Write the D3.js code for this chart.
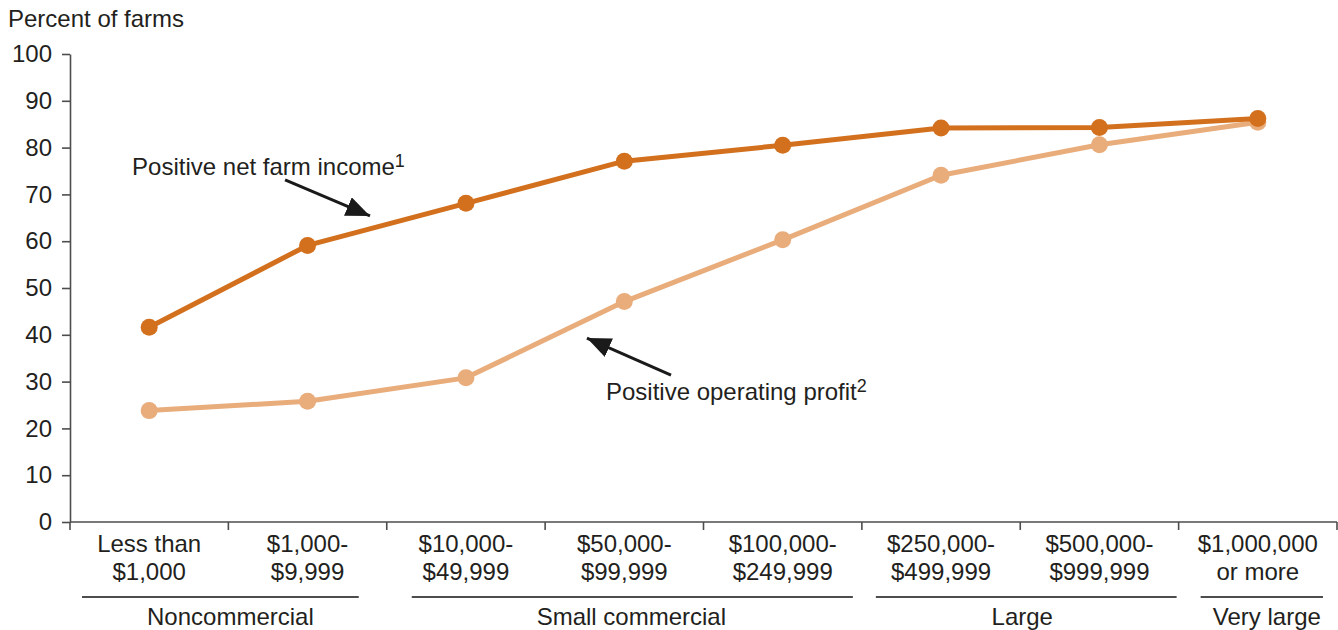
<!DOCTYPE html>
<html>
<head>
<meta charset="utf-8">
<script src="https://cdn.jsdelivr.net/npm/d3@7"></script>
<style>
  html, body { margin: 0; padding: 0; background: #fff; }
  svg { display: block; }
  text { font-family: "Liberation Sans", Arial, Helvetica, sans-serif; fill: #231f20; }
</style>
</head>
<body>
<script>
// ---- data ----
const categories = ["Less than\n$1,000", "$1,000-\n$9,999", "$10,000-\n$49,999", "$50,000-\n$99,999",
                    "$100,000-\n$249,999", "$250,000-\n$499,999", "$500,000-\n$999,999", "$1,000,000\nor more"];
const netFarmIncome   = [41.6, 59.1, 68.1, 77.1, 80.5, 84.2, 84.3, 86.2];
const operatingProfit = [23.8, 25.8, 30.8, 47.1, 60.3, 74.1, 80.6, 85.4];
const yTicks = [0, 10, 20, 30, 40, 50, 60, 70, 80, 90, 100];
const groups = ["Noncommercial", "Small commercial", "Large", "Very large"];
const groupFirst = [0, 2, 5, 7];
const groupLast  = [1, 4, 6, 7];
const yTitle = "Percent of farms";

// ---- layout / style ----
const W = 1338, H = 630;
const mLeft = 70, mRight = 1337, mTop = 54, mBottom = 522;
const darkColor = "#d2701e", lightColor = "#e9ac7b", axisColor = "#4d4d4d";
const fontSize = 24;
const groupInsets = [[12, 28], [25, 9], [14, 2], [22, 14]];
const groupLabelShift = [10, -1, -4, 5];

const svg = d3.select("body").append("svg").attr("width", W).attr("height", H);

const x = d3.scaleBand().domain(categories).range([mLeft, mRight]).padding(0);
const y = d3.scaleLinear().domain([0, 100]).range([mBottom, mTop]);
const cx = c => x(c) + x.bandwidth() / 2;
// fractional category position (for annotations)
const xi = f => mLeft + (f + 0.5) * x.bandwidth();

// y axis
const yAxis = svg.append("g").attr("transform", `translate(${mLeft},0)`)
  .call(d3.axisLeft(y).tickValues(yTicks).tickSize(8).tickSizeOuter(0).tickPadding(10));
yAxis.selectAll("path, line").attr("stroke", axisColor).attr("stroke-width", 1.6);
yAxis.selectAll("text").style("font-size", fontSize + "px").attr("fill", "#231f20")
  .style("font-family", '"Liberation Sans", Arial, sans-serif');

// x axis: baseline with ticks at band boundaries
const xAxisG = svg.append("g");
xAxisG.append("line").attr("x1", mLeft).attr("x2", mRight).attr("y1", mBottom).attr("y2", mBottom)
  .attr("stroke", axisColor).attr("stroke-width", 1.6);
const boundaries = categories.map(c => x(c)).concat([x(categories[categories.length - 1]) + x.bandwidth()]);
xAxisG.selectAll("line.tick").data(boundaries).join("line").attr("class", "tick")
  .attr("x1", d => d).attr("x2", d => d).attr("y1", mBottom).attr("y2", mBottom + 8)
  .attr("stroke", axisColor).attr("stroke-width", 1.6);

// category labels
const catLabels = svg.append("g").selectAll("text").data(categories).join("text")
  .attr("x", d => cx(d)).attr("y", 552).attr("text-anchor", "middle").style("font-size", fontSize + "px");
catLabels.each(function (d) {
  const lines = d.split("\n");
  d3.select(this).selectAll("tspan").data(lines).join("tspan")
    .attr("x", cx(d)).attr("dy", (l, i) => i === 0 ? 0 : 28).text(l => l);
});

// group underlines and labels
groups.forEach((g, i) => {
  const x0 = x(categories[groupFirst[i]]) + groupInsets[i][0];
  const x1 = x(categories[groupLast[i]]) + x.bandwidth() - groupInsets[i][1];
  svg.append("line").attr("x1", x0).attr("x2", x1).attr("y1", 597).attr("y2", 597)
    .attr("stroke", axisColor).attr("stroke-width", 2);
  svg.append("text").attr("x", (x0 + x1) / 2 + groupLabelShift[i]).attr("y", 625).attr("text-anchor", "middle")
    .style("font-size", fontSize + "px").text(g);
});

// y title
svg.append("text").attr("x", 8).attr("y", 27).style("font-size", fontSize + "px").text(yTitle);

// series
const line = d3.line().x((d, i) => cx(categories[i])).y(d => y(d));
function drawSeries(values, color) {
  svg.append("path").datum(values).attr("d", line).attr("fill", "none")
    .attr("stroke", color).attr("stroke-width", 5).attr("stroke-linejoin", "round");
  svg.append("g").selectAll("circle").data(values).join("circle")
    .attr("cx", (d, i) => cx(categories[i])).attr("cy", d => y(d)).attr("r", 8.5).attr("fill", color);
}
drawSeries(operatingProfit, lightColor);
drawSeries(netFarmIncome, darkColor);

// arrows
const defs = svg.append("defs");
defs.append("marker").attr("id", "arrow").attr("markerUnits", "userSpaceOnUse")
  .attr("viewBox", "0 0 24 20").attr("refX", 24).attr("refY", 10)
  .attr("markerWidth", 24).attr("markerHeight", 20).attr("orient", "auto")
  .append("path").attr("d", "M0,0 L24,10 L0,20 Z").attr("fill", "#1a1a1a");

function annotate(label, sup, tx, ty, ax0, ay0, ax1, ay1) {
  const t = svg.append("text").attr("x", xi(tx)).attr("y", y(ty)).style("font-size", fontSize + "px");
  t.append("tspan").text(label);
  t.append("tspan").attr("dy", -8).style("font-size", "18px").text(sup);
  svg.append("line").attr("x1", xi(ax0)).attr("y1", y(ay0)).attr("x2", xi(ax1)).attr("y2", y(ay1))
    .attr("stroke", "#1a1a1a").attr("stroke-width", 3).attr("marker-end", "url(#arrow)");
}
annotate("Positive net farm income", "1", -0.108, 74.1, 0.858, 73.1, 1.394, 65.4);
annotate("Positive operating profit", "2", 2.884, 26.1, 3.295, 31.4, 2.764, 39.3);
</script>
</body>
</html>
